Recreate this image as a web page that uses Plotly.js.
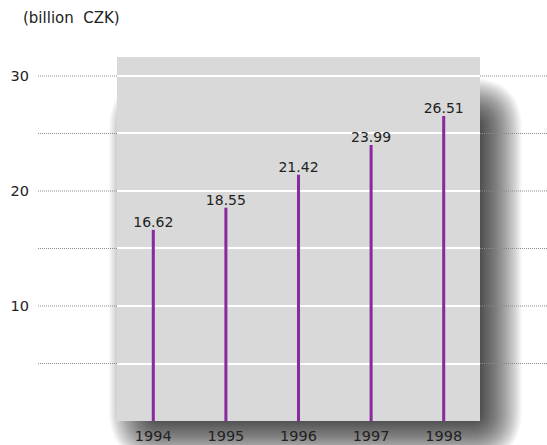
<!DOCTYPE html>
<html>
<head>
<meta charset="utf-8">
<script src="https://cdn.plot.ly/plotly-3.0.1.min.js"></script>
<style>html,body{margin:0;padding:0;background:#fff;}#chart{width:547px;height:445px;}</style>
</head>
<body>
<div id="chart"></div>
<script>
const years = ['1994', '1995', '1996', '1997', '1998'];
const values = [16.62, 18.55, 21.42, 23.99, 26.51];
const valueLabels = ['16.62', '18.55', '21.42', '23.99', '26.51'];
const yTickVals = [10, 20, 30];
const gridLevels = [5, 10, 15, 20, 25, 30];
const unitLabel = '(billion\u00a0 CZK)';

const W = 547, H = 445;
const L = 117, R = 67, T = 57, B = 24;
const pw = W - L - R, ph = H - T - B;
const px = x => (x - L) / pw;
const py = y => (H - B - y) / ph;

function roundRect(x0, y0, x1, y1, r) {
  r = Math.max(0, Math.min(r, (x1 - x0) / 2, (y1 - y0) / 2));
  const p = (x, y) => px(x).toFixed(5) + ',' + py(y).toFixed(5);
  return 'M' + p(x0 + r, y0) + ' L' + p(x1 - r, y0) + ' Q' + p(x1, y0) + ' ' + p(x1, y0 + r) +
    ' L' + p(x1, y1 - r) + ' Q' + p(x1, y1) + ' ' + p(x1 - r, y1) +
    ' L' + p(x0 + r, y1) + ' Q' + p(x0, y1) + ' ' + p(x0, y1 - r) +
    ' L' + p(x0, y0 + r) + ' Q' + p(x0, y0) + ' ' + p(x0 + r, y0) + ' Z';
}

const shapes = [];
// soft drop shadow
const core = {x0: 135, y0: 104, x1: 496, y1: 436};
const s = 26;
for (let e = s; e >= -s; e--) {
  shapes.push({
    type: 'path', xref: 'paper', yref: 'paper', layer: 'below',
    path: roundRect(core.x0 - e, core.y0 - e, core.x1 + e, core.y1 + e, s + e),
    fillcolor: 'rgba(0,0,0,0.024)', line: {width: 0}
  });
}
// panel
shapes.push({type: 'rect', xref: 'paper', yref: 'paper', layer: 'below',
  x0: 0, x1: 1, y0: 0, y1: 1, fillcolor: '#d9d9d9', line: {width: 0}});
// dotted lines outside panel
gridLevels.forEach(v => {
  shapes.push({type: 'line', xref: 'paper', yref: 'y', layer: 'below',
    x0: px(38), x1: 0, y0: v, y1: v, line: {color: '#8a8a8a', width: 1, dash: '1px,1px'}});
  shapes.push({type: 'line', xref: 'paper', yref: 'y', layer: 'below',
    x0: 1, x1: px(547), y0: v, y1: v, line: {color: '#8a8a8a', width: 1, dash: '1px,1px'}});
});

const data = [{
  type: 'bar', x: years, y: values, width: 0.042,
  marker: {color: '#8a2a9c', line: {width: 0}},
  text: valueLabels, textposition: 'outside', textangle: 0, cliponaxis: false,
  constraintext: 'none',
  textfont: {family: 'DejaVu Sans', size: 14, color: '#222'},
  hoverinfo: 'none'
}];

const layout = {
  width: W, height: H,
  margin: {l: L, r: R, t: T, b: B, pad: 0},
  paper_bgcolor: '#ffffff', plot_bgcolor: 'rgba(0,0,0,0)',
  showlegend: false,
  font: {family: 'DejaVu Sans', size: 14, color: '#222'},
  xaxis: {type: 'category', range: [-0.5, 4.5], showgrid: false, zeroline: false,
    showline: false, ticks: '', tickfont: {size: 14.5, color: '#222'}, ticklabelstandoff: 4},
  yaxis: {range: [0, 31.65], tickvals: yTickVals, showgrid: true, gridcolor: '#ffffff', gridwidth: 2,
    minor: {tickvals: [5, 15, 25], showgrid: true, gridcolor: '#ffffff', gridwidth: 2},
    zeroline: false, showline: false, ticks: '', tickfont: {size: 14.5, color: '#222'},
    automargin: false, ticklabelstandoff: 87},
  shapes: shapes,
  annotations: [{text: unitLabel, xref: 'paper', yref: 'paper', x: px(21), y: py(18),
    xanchor: 'left', yanchor: 'middle', showarrow: false,
    font: {family: 'DejaVu Sans', size: 15, color: '#222'}}]
};

Plotly.newPlot('chart', data, layout, {displayModeBar: false, staticPlot: true});
</script>
</body>
</html>
